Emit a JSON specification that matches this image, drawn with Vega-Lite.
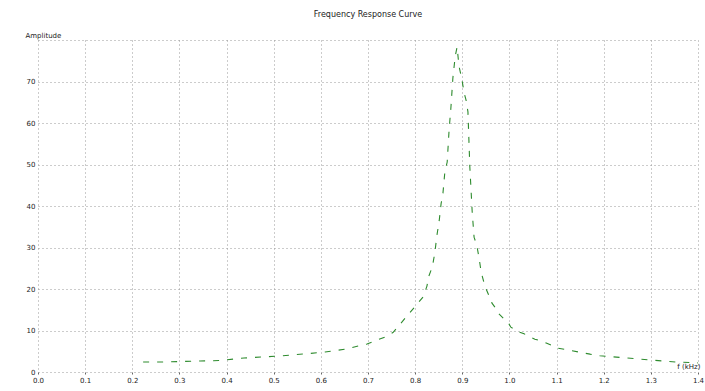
{
  "$schema": "https://vega.github.io/schema/vega-lite/v6.json",
  "width": 660,
  "height": 332,
  "autosize": "none",
  "padding": {"left": 38, "top": 40, "right": 7, "bottom": 19},
  "background": "white",
  "title": {"text": "Frequency Response Curve", "fontSize": 8, "font": "DejaVu Sans", "fontWeight": "normal", "color": "#222", "offset": 12, "anchor": "middle"},
  "config": {"view": {"stroke": null}},
  "data": {"values": [
    {"f": 0.223, "a": 2.41}, {"f": 0.265, "a": 2.41}, {"f": 0.344, "a": 2.65}, {"f": 0.386, "a": 2.77},
    {"f": 0.437, "a": 3.37}, {"f": 0.513, "a": 3.86}, {"f": 0.564, "a": 4.34}, {"f": 0.609, "a": 4.82},
    {"f": 0.655, "a": 5.54}, {"f": 0.679, "a": 6.27}, {"f": 0.698, "a": 6.75}, {"f": 0.719, "a": 7.71},
    {"f": 0.736, "a": 8.43}, {"f": 0.753, "a": 9.5}, {"f": 0.817, "a": 18.1}, {"f": 0.825, "a": 20.7},
    {"f": 0.829, "a": 23.1}, {"f": 0.834, "a": 24.6}, {"f": 0.838, "a": 26.3}, {"f": 0.842, "a": 28.9},
    {"f": 0.846, "a": 32.8}, {"f": 0.851, "a": 36.4}, {"f": 0.855, "a": 40.5}, {"f": 0.859, "a": 43.1},
    {"f": 0.863, "a": 48.2}, {"f": 0.868, "a": 50.6}, {"f": 0.872, "a": 58.3}, {"f": 0.876, "a": 63.9},
    {"f": 0.880, "a": 70.8}, {"f": 0.885, "a": 76.1}, {"f": 0.889, "a": 78.3}, {"f": 0.893, "a": 73.7},
    {"f": 0.899, "a": 70.6}, {"f": 0.904, "a": 67.2}, {"f": 0.908, "a": 65.5}, {"f": 0.912, "a": 62.7},
    {"f": 0.916, "a": 49.4}, {"f": 0.921, "a": 38.6}, {"f": 0.925, "a": 32.5}, {"f": 0.931, "a": 30.4},
    {"f": 0.936, "a": 27.2}, {"f": 0.940, "a": 24.1}, {"f": 0.948, "a": 20.7}, {"f": 0.957, "a": 18.3},
    {"f": 0.963, "a": 16.6}, {"f": 0.972, "a": 15.2}, {"f": 0.976, "a": 14.2}, {"f": 0.999, "a": 11.6},
    {"f": 1.003, "a": 10.8}, {"f": 1.022, "a": 9.6}, {"f": 1.031, "a": 9.2}, {"f": 1.054, "a": 7.9},
    {"f": 1.067, "a": 7.5}, {"f": 1.078, "a": 7.0}, {"f": 1.101, "a": 5.8}, {"f": 1.124, "a": 5.3},
    {"f": 1.148, "a": 4.8}, {"f": 1.171, "a": 4.3}, {"f": 1.192, "a": 3.9}, {"f": 1.249, "a": 3.4},
    {"f": 1.298, "a": 2.9}, {"f": 1.353, "a": 2.4}, {"f": 1.400, "a": 2.2}
  ]},
  "mark": {"type": "line", "color": "#2e8b2e", "strokeWidth": 1.1, "strokeDash": [6, 8], "clip": true},
  "encoding": {
    "x": {
      "field": "f", "type": "quantitative",
      "scale": {"domain": [0, 1.4], "nice": false, "zero": false},
      "axis": {
        "values": [0, 0.1, 0.2, 0.3, 0.4, 0.5, 0.6, 0.7, 0.8, 0.9, 1.0, 1.1, 1.2, 1.3, 1.4],
        "format": ".1f", "domain": false, "ticks": true, "tickSize": 2, "tickColor": "#666",
        "labelFontSize": 7, "labelFont": "DejaVu Sans", "labelColor": "#222", "labelPadding": 2,
        "grid": true, "gridDash": [1, 3], "gridColor": "#999", "gridOpacity": 1,
        "title": "f (kHz)", "titleFontSize": 7, "titleFont": "DejaVu Sans", "titleFontWeight": "normal",
        "titleColor": "#222", "titleX": 662, "titleY": -3, "titleAlign": "right", "titleBaseline": "bottom",
        "labelFlush": false
      }
    },
    "y": {
      "field": "a", "type": "quantitative",
      "scale": {"domain": [0, 80], "nice": false},
      "axis": {
        "values": [0, 10, 20, 30, 40, 50, 60, 70, 80],
        "labelExpr": "datum.value == 80 ? '' : datum.label",
        "domain": false, "ticks": false, "labelPadding": 3,
        "labelFontSize": 7, "labelFont": "DejaVu Sans", "labelColor": "#222",
        "grid": true, "gridDash": [1, 3], "gridColor": "#999", "gridOpacity": 1,
        "title": "Amplitude", "titleAngle": 0, "titleFontSize": 7, "titleFont": "DejaVu Sans",
        "titleFontWeight": "normal", "titleColor": "#222",
        "titleX": -13, "titleY": -2, "titleAlign": "left", "titleBaseline": "bottom"
      }
    }
  }
}
